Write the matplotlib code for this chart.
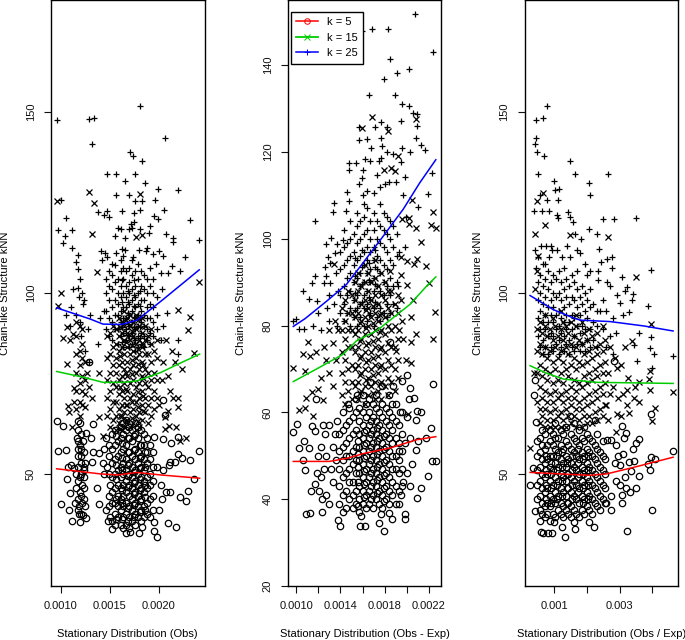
import numpy as np
import matplotlib
matplotlib.use("Agg")
import matplotlib.pyplot as plt
from matplotlib.lines import Line2D

plt.rcParams["font.family"] = ["Liberation Sans", "DejaVu Sans"]

obs_k5 = [(.956,64.5),(1.024,63.3),(1.33,63.7),(1.29,80.8),(2.04,70.4),(2.065,66.3),(1.17,64.5),(1.2,64),(1.26,61.4),(1.305,60),
(.97,56.4),(1.05,56.6),(2.41,56.4),(2.32,53.9),(2.236,54.5),(2.2,55.5),(2.2,60.3),(2.13,58.5),(2.045,59.6),(1.95,60.1),(2.17,53.2),
(2.12,53.4),(2.11,52.5),(2.36,48.7),(2.3,45.2),(2.28,42.4),(2.22,43.5),(2.18,35.2),(2.1,36.4),(1.98,32.5),(1.955,34.3),(1.955,36.7),
(1.67,33.6),(1.706,34),(1.8,33.6),(1.83,35.2),(1.525,34.7),(1.478,37),(1.11,37),(1.2,36.6),(1.256,37.9),(1.0,41.7),(1.08,40.1),(1.39,41.7),
(1.09,44.7),(1.065,48.6),(1.37,46.2),(1.33,56),(1.39,55.7),(1.32,53.4),(1.1,52.5),(1.07,52),(1.13,51.5),(1.15,50),(1.19,49),(1.24,51),
(1.25,53),(1.21,55),(1.17,57),(1.2,58),(1.16,60),(1.23,59),(1.15,46),(1.19,45),(1.22,47),(1.14,42),(1.18,41),(1.22,42),(1.25,41),(1.18,39),(1.23,38.5),
(1.47,52),(1.5,47),(1.52,42),(1.5,38),(2.03,43),(1.98,52),(2.02,47),(1.44,50),(1.43,53),(1.46,40),(2.05,51),(2.08,45),(2.12,45),(2.0,40),(1.44,57),(1.46,60)]
obs_k5_dense = {1.49:[41,44,50,55,58],1.52:[37,45,49,53,57,61],1.55:[36,39,42,46,50,54,58,62],1.58:[38,41,44,47,51,55,59],1.61:[36,40,43,46,49,52,56,60,63],
1.64:[35,38,41,44,47,50,53,57,61],1.67:[36,39,42,45,48,51,54,58,62,65],1.7:[35,38,41,44,47,50,53,56,60,63],1.73:[37,40,43,46,49,52,55,59,62],1.76:[36,39,42,45,48,51,54,57,61,64],
1.79:[38,41,44,47,50,53,56,60,63],1.82:[37,40,43,46,49,52,55,58,62],1.85:[38,41,45,48,51,54,58,61],1.88:[39,42,46,49,53,56,60],1.91:[38,43,47,50,54,58],1.94:[40,44,48,52,56],1.17:[40,43,48,52,55,59,62],1.21:[39,44,50,53,57,61],1.24:[43,46,49,52,56],
1.565:[37.5,43,48.5,52.5,60.5],1.625:[37.5,42,45.5,51,54.5,58.5,64],1.685:[37,40.5,46.5,49.5,52.5,56,60],1.745:[38,41.5,44.5,47.5,50.5,56.5,60.5],1.805:[39.5,42.5,45.5,48.5,51.5,54.5,58],1.865:[40,43.5,47,52,56]}
obs_k15 = [(1.29,127.8),(.956,125.5),(1.338,124.9),(1.81,127.5),(1.32,116.3),(1.765,115.4),(1.826,116),(1.372,105.9),(1.0,100),(.973,96.4),
(2.413,103),(2.32,93.5),(2.2,95.4),(2.3,89.8),(2.358,83.3),(2.236,79),(2.12,73),(2.15,71.1),(2.2,71.1),(2.2,68.6),(2.1,67.5),(2.07,65.8),(2.11,63.3),
(2.18,63),(2.07,62.3),(2.28,60),(2.22,59.1),(1.43,60.6),(1.39,65.6),(1.11,62.9),(1.32,71.1),(1.245,68.4),(1.075,68.8),(1.13,73.8),(1.13,70),(1.08,67),
(1.024,87.5),(1.09,87),(1.12,88.7),(1.06,90.6),(1.19,91),(1.06,80.4),(1.39,78),(2.17,81),(1.27,78),(1.29,74),(2.0,69),(2.03,76),(2.05,81),(2.08,87),(2.1,77),(2.14,84)]
obs_k15_dense = {1.47:[66,71,76,82,88],1.5:[63,68,73,78,83,89],1.53:[65,70,75,80,85,91],1.56:[62,66,70,74,78,82,86,90],1.59:[64,68,72,76,80,84,88,93],1.62:[62,66,69,73,77,81,85,89,92],
1.65:[63,67,71,75,79,83,87,91,95],1.68:[65,69,73,77,81,85,89,93],1.71:[63,67,71,75,79,83,87,91,94],1.74:[64,68,72,76,80,84,88,92],1.77:[66,70,74,78,82,86,90,94],1.8:[63,67,71,75,79,83,87,91],
1.83:[65,69,73,77,81,85,89,93],1.86:[67,71,75,79,83,87,91],1.89:[64,69,74,78,83,88],1.92:[66,71,76,81,86,90],1.95:[68,73,78,84],1.98:[71,76,82,87],1.15:[68,73,78,83,88,92],1.19:[66,70,75,80,84],1.22:[69,73,77,82,86,90],1.25:[72,76,81],
1.605:[62.5,66,74,82.5,90.5],1.665:[64.5,69,73.5,78,86.5,92.5],1.725:[65.5,70,77.5,81.5,85.5,89.5],1.785:[64.5,68.5,72.5,80.5,84.5,92.5],1.845:[67.5,71.5,76.5,80,86]}
obs_k25 = [(.956,147.7),(1.29,148.2),(1.34,148.3),(1.32,141.3),(1.805,151.7),(2.065,142.9),(1.71,139),(1.737,138),(1.826,136.5),(1.468,133),(1.56,133),
(1.76,133),(1.655,131),(1.863,130.5),(1.99,128.8),(2.198,128.5),(1.56,127),(1.7,127),(1.754,125.5),(1.826,125.5),(1.96,125.8),(1.0,125.6),(1.375,122.5),
(1.474,122.8),(1.444,121.6),(1.488,121),(1.62,122.8),(1.747,122),(1.81,123),(2.058,123),(1.05,120.8),(1.95,121.2),(1.997,120.5),(2.32,120.3),(.97,117.3),
(1.116,117.5),(1.044,115.7),(1.024,113.9),(1.58,118),(1.61,117.7),(1.7,117.6),(1.81,117.7),(1.91,118.5),(1.9,116.5),(2.08,116.2),(2.15,115.1),(2.15,114),(2.41,114.7),
(1.55,115.7),(1.655,115.2),(1.73,118),(1.75,119.5),(1.72,119),(1.88,112.4),(1.116,112.4),(1.17,110.5),(1.15,108.7),(1.17,106.7),(2.27,110),(2.0,111.5),(2.04,110.2),
(2.14,107.5),(2.22,106),(2.1,105.4),(1.97,108),(1.42,109),(1.45,111),(1.41,111.5),(1.47,110),(1.56,111),(1.55,107.7),(1.64,110.3),(1.62,112.3),(1.66,112),(1.74,110),(1.8,112),
(1.87,111.5),(1.94,110.8),(2.02,105.5),(2.03,101),(2.09,94.5),(2.05,91),(2.02,87),(2.2,87),(2.2,83),(1.3,94),(1.28,90),(1.1,96),(1.05,94),(1.15,94),(1.2,92),(1.09,91),(1.23,97),(1.17,101.5),
(1.2,104),(1.18,99),(1.12,101),(1.22,100),(1.24,98),(1.38,86),(1.25,84),(1.29,81),(1.21,88),(1.44,95),(1.4,93)]
obs_k25_dense = {1.46:[90,95,100,104],1.49:[88,93,98,102,106],1.52:[87,92,96,101,105,108],1.55:[90,94,98,103],1.58:[86,90,94,97,100,104],1.61:[88,92,95,99,102,106,109],1.64:[85,89,93,96,100,104,107],
1.67:[87,90,93,96,99,102,106],1.7:[85,88,91,94,97,100,103,107],1.73:[86,89,92,95,98,101,105,109],1.76:[84,87,90,93,96,99,102,106],1.79:[85,88,91,94,97,100,104,108],1.82:[86,89,92,95,98,102,106],
1.85:[85,88,91,94,98,101,105],1.88:[87,90,93,96,100,104],1.91:[86,89,93,97,102,107],1.94:[88,92,96,100,104],1.98:[90,94,99],
1.625:[86.5,90.5,97.5,103.5],1.685:[88.5,91.5,94.5,97.5,100.5],1.745:[87.5,90.5,93.5,96.5,99.5,103.5],1.805:[87.5,90.5,93.5,96.5,100.5]}
obs_red = [(.956,51.4),(1.4,50),(1.58,49.7),(1.78,50.4),(2.02,49.7),(2.42,48.8)]
obs_green = [(.956,78.3),(1.23,76.7),(1.43,75.3),(1.64,75.3),(1.78,75.7),(2.02,78),(2.22,80.6),(2.42,83.1)]
obs_blue = [(.956,95.9),(1.3,92.8),(1.43,91.4),(1.62,91.3),(1.78,92.5),(2.05,98.3),(2.416,106.4)]

diff_k5 = [(2.24,66.5),(2.218,56.5),(2.194,45.4),(2.23,48.8),(2.263,48.8),(2.127,42.5),(2.094,40.2),(2.08,58.3),(2.127,60),(2.094,60.4),(2.082,51.4),(2.1,53.4),
(2.17,54),(2.028,65.5),(2.07,63.4),(1.998,68.6),(1.96,67.3),(1.85,76.1),(.973,55.4),(1.003,57.4),(1.07,53.4),(1.027,51.7),(1.115,51.8),(1.063,49),(1.075,46.8),
(1.14,56.9),(1.17,55.7),(1.175,63),(1.135,41.8),(1.17,43.5),(1.085,36.7),(1.124,36.9),(1.232,37.1),(1.374,35.2),(1.395,33.8),(1.573,33.9),(1.62,33.8),(1.796,32.6),
(1.75,34.5),(1.763,36.5),(1.838,36.9),(1.862,35.4),(1.98,36.5),(1.98,35.4),(1.585,36.2),(1.2,50),(1.19,46),(1.22,45),(1.25,47),(1.27,50),(1.22,52),(1.26,55),(1.3,57),(1.24,57),
(1.21,42),(1.23,40),(1.27,41),(1.3,39),(1.33,44),(1.31,47),(1.33,52),(1.35,55),(1.37,58),(1.36,49),(2.0,46),(2.03,43),(1.94,60),(2.0,59),(2.03,54),(2.05,48),(2.02,63),(1.98,53),(1.93,39),(1.95,41),(1.97,44),
(1.93,51),(1.88,66),(1.78,66),(1.67,67),(1.55,64),(1.47,62)]
diff_k5_dense = {1.39:[39,43,47,51,55],1.42:[37,41,45,49,52,56,60],1.45:[38,42,46,50,53,57],1.48:[40,44,47,50,54,58,61],1.51:[38,41,44,48,51,55,59],1.54:[39,42,46,49,52,56,60,63],1.57:[37,40,43,46,49,52,55,58,61],
1.6:[39,42,45,48,51,54,57,60,64],1.63:[38,41,44,47,50,53,56,59,62],1.66:[39,42,45,48,51,54,57,60,63],1.69:[38,41,44,47,50,53,56,59,62],1.72:[40,43,46,49,52,55,58,61,64],1.75:[39,42,45,48,51,54,57,60],
1.78:[38,41,44,47,50,53,56,59,62],1.81:[40,43,46,49,52,55,58,61],1.84:[39,42,45,48,51,54,57,60,64],1.87:[41,44,47,50,53,56,59,62],1.9:[39,43,47,50,54,58,62],1.93:[42,46,49,53,57],1.96:[43,47,51,55,60],
1.555:[38.5,44,47.5,50.5,53.5],1.615:[40.5,43.5,46.5,49.5,52.5,55.5],1.675:[40,43,46,49,52,55,58],1.735:[41.5,44.5,47.5,50.5,53.5,56.5],1.795:[39.5,42.5,45.5,48.5,51.5,54.5]}
diff_k15 = [(1.687,128),(2.08,127.5),(1.597,125.5),(1.83,124.9),(1.917,119),(1.79,115.8),(1.853,116.4),(1.892,115.5),(2.05,109),(2.24,106.2),(2.22,103.2),(2.263,102.5),
(2.022,104.8),(1.956,104.6),(2.022,103.3),(2.08,102.5),(2.13,99.2),(1.947,95.8),(2.0,94.8),(2.094,95.4),(2.17,93.7),(2.197,89.9),(2.26,83.2),(1.34,94.1),(2.07,94.2),(1.85,92.6),
(1.95,91.6),(2.0,89.3),(2.236,76.9),(2.082,78),(2.037,76.3),(1.93,79),(.973,70.2),(1.08,69.6),(1.108,76.3),(1.057,73.4),(1.12,72.9),(1.025,60.6),(1.08,60.9),(1.154,59.2),(1.087,63.4),
(1.138,64.7),(1.244,62.8),(1.2,65.4),(2.037,71.3),(1.907,74.2),(2.01,59.7),(1.25,75),(1.27,72),(1.3,69),(1.22,68),(1.18,74),(1.33,66),(1.36,72),(1.33,76),(1.38,79),(1.35,81),(1.3,79),
(2.04,82),(2.06,86),(1.99,72),(1.97,77),(1.96,81),(1.95,86)]
diff_k15_dense = {1.41:[64,69,74,79,84],1.44:[62,67,72,77,81,86],1.47:[65,70,75,79,83,88],1.5:[63,67,71,75,79,83,87],1.53:[66,70,74,78,82,86,90],1.56:[63,67,71,75,79,83,88,92],1.59:[65,69,73,77,81,85,89],
1.62:[62,66,70,74,78,82,86,90,94],1.65:[64,68,72,76,80,84,88,92],1.68:[66,70,74,78,82,86,90],1.71:[63,67,71,75,79,83,87,91,95],1.74:[65,69,73,77,81,85,89],1.77:[63,67,71,75,79,83,87,92],1.8:[66,70,74,78,82,86,90],
1.83:[64,68,72,76,80,84,88],1.86:[67,71,75,79,83,88],1.89:[65,70,75,80,85],1.92:[68,72,77,83,87],
1.575:[64.5,68.5,72.5,76.5,80.5],1.635:[67.5,71.5,75.5,79.5,83.5],1.695:[64.5,68.5,72.5,76.5,80.5,84.5],1.755:[66.5,70.5,74.5,78.5,82.5]}
diff_k25 = [(2.076,151.8),(1.597,147.9),(1.687,148.3),(1.83,148.4),(2.236,143),(1.847,141.5),(2.02,139.2),(1.913,138.2),(1.793,136.7),(1.654,133.1),(1.892,133.1),(1.96,131.1),(2.02,130.6),
(2.055,129),(2.094,128.7),(1.768,127),(1.95,127.2),(2.09,125.9),(1.564,125.8),(1.717,125.8),(1.823,125.8),(2.08,123.2),(1.57,122.7),(1.64,123),(1.763,123.1),(2.128,121.7),(2.167,120.5),
(1.678,121),(1.775,121.3),(1.96,120.8),(2.03,119.9),(1.823,120),(1.877,119.5),(1.62,118.3),(1.67,117.8),(1.745,117.8),(1.77,118.6),(1.947,117.7),(1.48,117.5),(1.54,117.5),(1.48,115.8),(1.6,115.8),
(2.23,115.2),(1.594,114),(1.73,114.7),(1.98,114.2),(1.564,112.7),(1.46,110.8),(2.194,110.2),(1.48,108.8),(1.34,108.3),(1.335,106.2),(1.446,106.5),(2.103,107.4),(1.172,104),(1.313,100.2),(1.268,98.8),
(1.37,98.9),(1.42,99.8),(1.35,96.6),(1.283,95.8),(1.256,93.5),(1.305,94.5),(1.17,91.5),(1.265,91.5),(1.14,89.7),(1.057,87.9),(1.25,89.7),(1.305,89.8),(1.115,86.2),(1.19,85.6),(1.0,81.6),(.973,81),(1.025,79.3),(1.07,79.3),
(1.6,110),(1.64,111),(1.7,110.5),(1.76,112),(1.8,112.5),(1.84,113),(1.9,113),(1.97,110),(1.99,105),(1.93,97),(1.98,98),(1.92,89),(1.2,83),(1.28,84),(1.15,80),(1.22,79),(1.3,81),(1.37,80),(1.34,85),(1.36,92),(1.3,87),(1.38,88)]
diff_k25_dense = {1.4:[83,87,93,97],1.43:[81,85,89,94,98,102],1.46:[83,87,91,95,99],1.49:[80,84,88,92,96,100,104],1.52:[82,86,90,94,97,101],1.55:[80,84,87,91,95,99,103,106],1.58:[82,85,89,92,96,100,104],
1.61:[80,84,87,90,94,97,101,105,108],1.64:[81,85,88,92,95,98,102,107],1.67:[83,86,90,93,97,100,104],1.7:[80,84,88,91,95,98,102,106],1.73:[82,85,89,93,96,100,104],1.76:[81,84,88,92,95,99,103,108],
1.79:[83,87,90,94,98,102,106],1.82:[82,85,89,93,97,101,105],1.85:[83,87,91,95,100,104],1.88:[85,89,94,98,103],1.91:[84,90,96,101],
1.535:[83.5,87.5,91.5,95.5],1.595:[85.5,89.5,93.5,97.5],1.655:[82.5,86.5,90.5,94.5],1.715:[85.5,89.5,93.5,97.5]}
diff_red = [(.973,48.7),(1.3,48.7),(1.455,49.4),(1.606,50.5),(1.85,51.8),(2.09,53.7),(2.263,54.4)]
diff_green = [(.973,67.1),(1.184,70),(1.425,73.4),(1.545,76.5),(1.727,78.8),(1.862,81.5),(2.03,84.9),(2.18,89.1),(2.263,91.2)]
diff_blue = [(.973,79.8),(1.08,81.6),(1.274,85.6),(1.455,89.5),(1.606,94.5),(1.787,100.6),(1.968,106.8),(2.118,112.9),(2.263,118.2)]

ratio_k5 = [(4.63,56.4),(4.07,54),(3.96,54.7),(3.87,52.7),(3.94,51.1),(3.97,66.5),(4.0,40.1),(3.24,34.3),(2.23,35.2),(2.08,36.6),(1.35,32.5),(1.23,35.2),(1.64,34.7),(1.61,36.8),(.6,34),(.67,33.6),
(.81,33.6),(.93,33.6),(1.0,36.8),(.57,37),(.42,39.8),(.27,46.8),(.35,51.6),(2.74,40.1),(3.07,42),(3.07,44.2),(3.33,45.1),(3.51,46.2),(3.58,49.4),(3.36,50.8),(3.29,53.4),(3.43,53.6),(3.6,59.6),(3.51,58.5),
(3.41,56.8),(3.2,61.4),(3.12,59.9),(3.07,63.3),(2.84,81.3),(.42,76),(.39,71.8),(.45,64.3),(2.62,59.5),(2.75,59.5),(2.9,58),(2.95,55),(3.1,55.5),(2.85,53),(3.0,52.5),(3.15,49),(2.9,48),(3.0,47),(3.2,46),(2.75,44),(2.6,42),(2.25,65),(1.5,66)]
ratio_k5_dense = {.48:[43,47,51,55,59],.56:[40,44,48,52,56,60],.64:[39,42,46,50,54,58,62],.72:[38,41,45,49,53,57,61],.8:[39,42,46,50,54,58],.88:[37,41,44,48,52,55,59,62],.96:[39,43,47,51,55,58,61],1.04:[38,42,45,49,53,57,60,64],
1.12:[40,44,48,52,56,60],1.2:[39,42,46,50,54,58,62],1.28:[38,41,45,49,53,57,61],1.36:[40,44,48,52,55,59,63],1.44:[39,42,46,50,54,58],1.52:[38,41,45,49,53,57,61],1.6:[40,44,48,52,56,60,64],1.68:[39,43,47,51,55,59],1.76:[38,42,46,50,54,58,62],
1.84:[40,44,48,52,56,60],1.92:[39,43,47,51,55,59,63],2.0:[41,45,49,53,57,61],2.08:[40,44,48,52,56,60],2.16:[39,43,47,51,55,59],2.24:[42,46,50,54,58],2.32:[41,45,49,53,57,61],2.4:[40,44,48,52,56],2.48:[43,47,51,55,59],2.56:[42,46,50,54],
.76:[43,47,51,55],.92:[42,46,50,53],1.08:[43,47,51,55],1.24:[44,48,52,56],1.4:[42,46,50,53],1.56:[43,47,51,55],1.72:[45,49,53,57],1.88:[42,46,50,54],2.04:[43,47,51,55]}
ratio_k15 = [(2.66,115.4),(3.5,104.3),(.67,127.6),(.47,125.5),(.72,118.9),(.42,116.3),(1.49,116.1),(.52,110.1),(.47,106),(.41,101.1),(3.97,91.4),(3.38,86.6),(2.92,79.2),(3.94,78.3),(3.89,76.2),(3.27,76.4),(3.94,73.2),(4.63,72.7),
(3.58,75.5),(3.48,74.1),(3.22,73.2),(3.43,71.1),(3.58,70),(3.22,68.9),(3.3,66.9),(3.04,66.1),(4.07,68.1),(4.0,64.7),(2.9,61.7),(.27,57.2),(2.92,66.6),(2.6,68.9),(.38,78),(2.65,65),(2.7,72),(2.65,78),(2.8,74),(2.7,85),(2.85,82),(2.95,71),(3.05,80),(3.1,72),(3.15,85)]
ratio_k15_dense = {.48:[70,78,84,90],.56:[64,68,74,80,86,92],.64:[66,71,77,83,89],.72:[63,68,73,79,85,91,94],.8:[65,70,76,82,88],.88:[63,67,72,78,84,90],.96:[65,70,75,81,87,93],1.04:[63,68,73,79,85,91],1.12:[66,71,76,82,88],1.2:[63,67,72,78,84,90,95],
1.28:[65,70,75,81,87,92],1.36:[63,68,73,79,85,91],1.44:[66,71,77,83,89],1.52:[64,69,74,80,86,92],1.6:[66,71,76,82,88],1.68:[63,68,73,79,85,91,94],1.76:[65,70,75,81,87],1.84:[63,68,74,80,86,92],1.92:[66,71,77,83,89],2.0:[64,69,75,81,87],2.08:[66,72,78,84,90],
2.16:[64,70,76,82,88],2.24:[67,73,79,85],2.32:[65,71,77,83,89],2.4:[68,74,80,86],2.48:[66,72,78,84,91],2.56:[69,75,81,87]}
ratio_k25 = [(.8,151.7),(.44,147.7),(.65,148.3),(.46,142.9),(.42,141.3),(.48,139),(.7,138),(1.48,136.5),(.51,133),(1.65,133),(2.66,133),(1.0,131),(2.07,130.5),(1.14,128.8),(1.03,128.5),(2.09,127),(.57,127),(1.13,125.6),(.78,125.8),(.39,122.8),
(.62,122.8),(.84,122.8),(1.44,122.5),(1.08,121.6),(1.13,120.8),(1.48,121),(1.59,119.5),(2.49,120.4),(2.83,120.4),(3.5,120.7),(2.08,117.7),(2.3,116.2),(1.82,114.9),(1.64,116.2),(2.38,112.3),(2.61,109.4),(2.78,110),(2.43,108.5),(3.97,106.4),
(2.77,107),(2.34,106.2),(3.07,104.4),(2.33,103.7),(2.61,103),(3.22,101.7),(3.15,100.6),(2.71,101.8),(2.92,99.5),(3.41,99.7),(3.38,98.2),(3.88,96.3),(3.02,97.2),(3.28,94.7),(3.1,94),(3.58,89),(3.97,87.9),(3.94,84.9),(4.06,83.1),(4.63,82.7),(3.99,79.2),
(3.53,81.3),(3.43,85.6),(.42,112),(.5,110),(.45,107),(.6,113),(.65,108),(.75,113),(.9,113),(.85,110),(.95,112),(1.1,112),(1.25,110),(1.4,113),(1.5,110),(1.7,112),(1.8,111),(1.95,108),(2.0,105),(2.1,106),(2.4,95),(2.6,95),(2.8,93),(2.5,90),(2.7,88),(2.9,89),(2.6,85),(2.8,83),(2.5,98)]
ratio_k25_dense = {.5:[88,93,98,103],.58:[85,90,95,100,105],.66:[83,87,92,97,102],.74:[85,90,94,99,104,108],.82:[83,88,92,96,101,106],.9:[85,89,94,98,103],.98:[84,88,92,96,100,105],1.06:[86,90,94,99,104],1.14:[83,87,91,95,100,106],
1.22:[85,89,93,98,103],1.3:[84,88,92,96,101,107],1.38:[86,90,94,99,104],1.46:[83,87,92,97,102],1.54:[85,90,94,99,105],1.62:[84,88,93,98,103],1.7:[86,91,96,101,106],1.78:[84,89,94,99],1.86:[86,91,97,102],1.94:[84,90,95,100],2.02:[87,93,98],2.1:[85,90,96,101],2.2:[87,92,97],2.3:[85,91,95]}
ratio_red = [(.27,50.4),(1.18,50),(2.1,49.6),(2.61,50),(3.43,51.8),(4.63,54.6)]
ratio_green = [(.27,79.9),(.78,77.8),(1.29,76.2),(2.3,75.3),(4.63,75)]
ratio_blue = [(.27,99.3),(.98,95.4),(1.59,93.1),(1.8,92.5),(2.71,92.1),(3.73,90.9),(4.63,89.5)]

obs_xticks = [0.0010, 0.0015, 0.0020]
obs_xlabels = ["0.0010", "0.0015", "0.0020"]
diff_xticks = [0.0010, 0.0012, 0.0014, 0.0016, 0.0018, 0.0020, 0.0022]
diff_xlabels = ["0.0010", "", "0.0014", "", "0.0018", "", "0.0022"]
ratio_xticks = [0.001, 0.002, 0.003, 0.004]
ratio_xlabels = ["0.001", "", "0.003", ""]
outer_yticks = [50, 100, 150]
diff_yticks = [20, 40, 60, 80, 100, 120, 140]

W, H = 685, 640
TICK_LEN = 7 * 72 / 100


def merge(pts, cols):
    # single points plus the columns of the dense middle
    return list(pts) + [(x, y) for x, ys in cols.items() for y in ys]


def panel(box, xlim, ylim, sets, curves, xticks, xlabels, yticks, xlabel, ylab_x):
    left, right, top, bottom = box
    ax = fig.add_axes([left / W, 1 - bottom / H, (right - left) / W, (bottom - top) / H])
    styles = [("o", 4.6, "none"), ("x", 4.2, "black"), ("+", 5.0, "black")]
    for pts, (m, ms, fc) in zip(sets, styles):
        pts = np.array(pts)
        ax.plot(pts[:, 0] * 1e-3, pts[:, 1], ls="none", marker=m, ms=ms, mfc=fc, mec="black", mew=0.9)
    for pts, c in zip(curves, ["#ff0000", "#00cd00", "#0000ff"]):
        pts = np.array(pts)
        ax.plot(pts[:, 0] * 1e-3, pts[:, 1], color=c, lw=1.1)
    ax.set_xlim(xlim)
    ax.set_ylim(ylim)
    ax.set_xticks(xticks, xlabels)
    ax.set_yticks(yticks, [str(v) for v in yticks], rotation=90, va="center")
    ax.tick_params(length=TICK_LEN, width=0.8, labelsize=8, pad=6, colors="#111111")
    for s in ax.spines.values():
        s.set_linewidth(1.0)
    cx = (left + right) / 2
    fig.text(cx / W, 1 - 634 / H, xlabel, ha="center", va="center", fontsize=8)
    fig.text(ylab_x / W, 1 - 293 / H, "Chain-like Structure kNN", rotation=90, ha="center", va="center", fontsize=8)
    return ax


fig = plt.figure(figsize=(6.85, 6.4), dpi=100)

panel((51, 204.5, 0, 586), (0.000898, 0.00247), (19, 181),
      [merge(obs_k5, obs_k5_dense), merge(obs_k15, obs_k15_dense), merge(obs_k25, obs_k25_dense)],
      [obs_red, obs_green, obs_blue], obs_xticks, obs_xlabels, outer_yticks,
      "Stationary Distribution (Obs)", 5)

ax2 = panel((288, 441, 0, 586), (0.000925, 0.00231), (20, 155),
            [merge(diff_k5, diff_k5_dense), merge(diff_k15, diff_k15_dense), merge(diff_k25, diff_k25_dense)],
            [diff_red, diff_green, diff_blue], diff_xticks, diff_xlabels, diff_yticks,
            "Stationary Distribution (Obs - Exp)", 241)

panel((524.7, 678, 0, 586), (0.000107, 0.00478), (19, 181),
      [merge(ratio_k5, ratio_k5_dense), merge(ratio_k15, ratio_k15_dense), merge(ratio_k25, ratio_k25_dense)],
      [ratio_red, ratio_green, ratio_blue], ratio_xticks, ratio_xlabels, outer_yticks,
      "Stationary Distribution (Obs / Exp)", 478)

handles = [
    Line2D([], [], color="#ff0000", marker="o", mfc="none", ms=4, mew=0.7, lw=1.1),
    Line2D([], [], color="#00cd00", marker="x", ms=4, mew=0.7, lw=1.3),
    Line2D([], [], color="#0000ff", marker="+", ms=4.5, mew=0.7, lw=1.1),
]
ax2.legend(handles, ["k = 5", "k = 15", "k = 25"], loc="upper left", bbox_to_anchor=(0.018, 0.98),
           borderaxespad=0, fancybox=False, framealpha=1, edgecolor="black", fontsize=8,
           handlelength=1.95, handletextpad=0.8, labelspacing=0.5, borderpad=0.5)

fig.savefig("out.png", dpi=100)
